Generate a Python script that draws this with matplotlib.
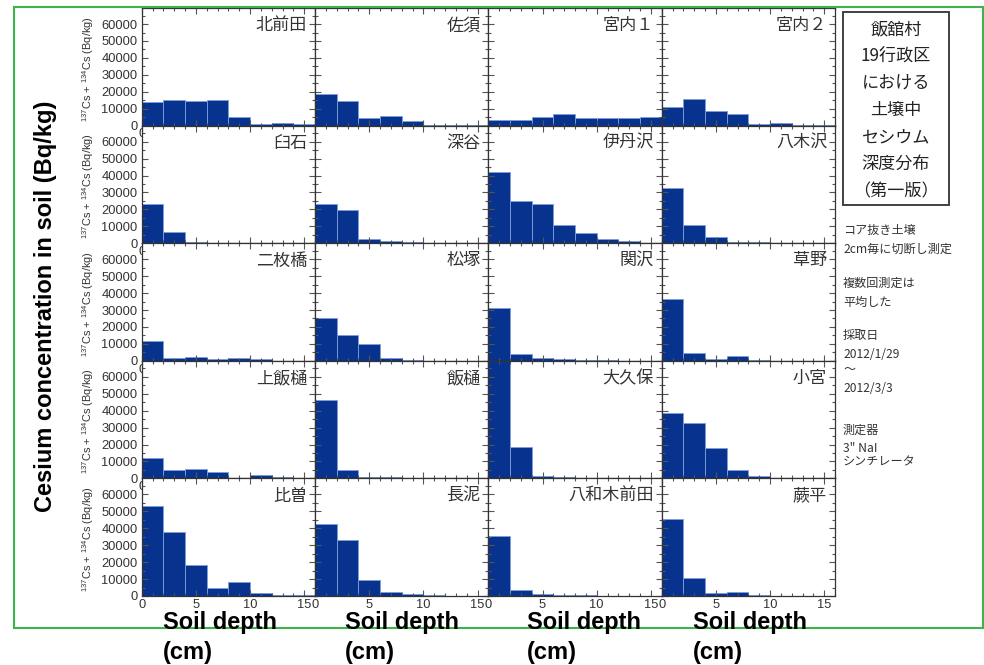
import matplotlib
matplotlib.use("Agg")
import matplotlib.pyplot as plt
from matplotlib.patches import Rectangle
from matplotlib.ticker import MultipleLocator

plt.rcParams['font.family'] = ['Liberation Sans', 'Noto Sans CJK JP']
plt.rcParams['mathtext.fontset'] = 'custom'
plt.rcParams['mathtext.rm'] = 'Liberation Sans'

#------------------------------------------------------------------------------
# data: Cs-137 + Cs-134 per 2 cm soil layer (Bq/kg)

depth_edges = [0, 2, 4, 6, 8, 10, 12, 14, 16]

sites = ["北前田", "佐須", "宮内１", "宮内２",
         "臼石", "深谷", "伊丹沢", "八木沢",
         "二枚橋", "松塚", "関沢", "草野",
         "上飯樋", "飯樋", "大久保", "小宮",
         "比曽", "長泥", "八和木前田", "蕨平"]

kitamaeda  = [14000, 15300, 14800, 15300, 5200, 1000, 1800, 1000]
sasu       = [18800, 14500, 4500, 5500, 2800, 400, 200, 100]
miyauchi1  = [3300, 3500, 5200, 6900, 4300, 4600, 4300, 5000]
miyauchi2  = [11000, 15700, 8400, 6900, 1200, 1600, 500, 200]
usuishi    = [23000, 6600, 900, 200, 100, 0, 0, 0]
fukaya     = [23400, 19700, 2300, 1200, 500, 200, 0, 0]
itamizawa  = [42300, 24800, 23000, 10900, 5800, 2300, 1200, 100]
yagisawa   = [32500, 10500, 3500, 900, 600, 0, 0, 0]
nimaibashi = [11500, 1800, 2200, 1000, 1600, 800, 0, 0]
matsuzuka  = [25500, 15300, 9800, 1600, 200, 100, 0, 0]
sekizawa   = [31000, 4000, 1400, 1000, 500, 300, 100, 0]
kusano     = [36400, 4900, 1200, 3000, 700, 0, 0, 0]
kamiiitoi  = [11900, 5200, 5600, 4000, 0, 2300, 600, 0]
iitoi      = [46200, 4800, 1000, 600, 500, 300, 100, 0]
ookubo     = [72000, 18300, 1200, 800, 300, 100, 0, 0]
komiya     = [38400, 32500, 17900, 4900, 1400, 500, 200, 200]
hiso       = [53400, 37700, 18400, 5000, 8300, 1900, 800, 700]
nagadoro   = [42400, 33300, 9300, 2300, 1200, 300, 100, 0]
yawagi     = [35200, 3300, 1200, 800, 700, 100, 0, 0]
warabidaira = [45500, 10600, 1600, 2600, 600, 0, 0, 0]

values = [kitamaeda, sasu, miyauchi1, miyauchi2,
          usuishi, fukaya, itamizawa, yagisawa,
          nimaibashi, matsuzuka, sekizawa, kusano,
          kamiiitoi, iitoi, ookubo, komiya,
          hiso, nagadoro, yawagi, warabidaira]

title_lines = ["飯舘村", "19行政区", "における", "土壌中", "セシウム", "深度分布", "（第一版）"]
note_lines = [("コア抜き土壌", 230), ("2cm毎に切断し測定", 249),
              ("複数回測定は", 283), ("平均した", 302),
              ("採取日", 336), ("2012/1/29", 355), ("～", 369), ("2012/3/3", 388),
              ("測定器", 430), ("3\" NaI", 449), ("シンチレータ", 462)]

#------------------------------------------------------------------------------

W, H = 984, 665
fig = plt.figure(figsize=(W / 100, H / 100), dpi=100)

def fx(px): return px / W
def fy(py): return 1 - py / H

bar_color = "#07338f"
x0, x1 = 141.7, 835.0
y0, y1 = 8.0, 596.0
pw = (x1 - x0) / 4
ph = (y1 - y0) / 5

for i, (name, vals) in enumerate(zip(sites, values)):
  row, col = divmod(i, 4)
  left = x0 + col * pw
  top = y0 + row * ph
  ax = fig.add_axes([fx(left), fy(top + ph), pw / W, ph / H])
  ax.bar(depth_edges[:-1], vals, width=2, align='edge',
         color=bar_color, edgecolor="#7d9ddc", linewidth=0.6)
  ax.set_xlim(0, 16)
  ax.set_ylim(0, 69500)
  ax.xaxis.set_major_locator(MultipleLocator(5))
  ax.xaxis.set_minor_locator(MultipleLocator(1))
  ax.yaxis.set_major_locator(MultipleLocator(10000))
  ax.yaxis.set_minor_locator(MultipleLocator(5000))
  ax.tick_params(which='both', direction='in', top=True, right=True,
                 colors="#555555", labelcolor="#333333", labelsize=9.3, width=0.8)
  ax.tick_params(which='major', length=4)
  ax.tick_params(which='minor', length=2.5)
  ax.tick_params(axis='x', pad=2)
  ax.tick_params(axis='y', pad=3)
  if col != 0:
    ax.tick_params(labelleft=False)
  for s in ax.spines.values():
    s.set_color("#333333")
    s.set_linewidth(0.9)
  ax.text(0.955, 0.93, name, transform=ax.transAxes, ha='right', va='top',
          fontsize=12.3, color="#333333", family=['Noto Sans CJK JP'])

  if col == 0:
    fig.text(fx(88), fy(top + ph / 2 + 2), r"$^{137}$Cs + $^{134}$Cs (Bq/kg)",
             rotation=90, ha='center', va='center', fontsize=7.9, color="#333333")

#------------------------------------------------------------------------------
# outer labels

fig.text(fx(46), fy(306), "Cesium concentration in soil (Bq/kg)", rotation=90,
         ha='center', va='center', fontsize=17, fontweight='bold')

for xl in [163, 345, 527, 693]:
  fig.text(fx(xl), fy(623), "Soil depth", ha='left', va='center',
           fontsize=17, fontweight='bold')
  fig.text(fx(xl), fy(652), "(cm)", ha='left', va='center',
           fontsize=17, fontweight='bold')

# legend box on the right
fig.patches.append(Rectangle((fx(843), fy(205)), (949 - 843) / W, (205 - 12) / H,
                             transform=fig.transFigure, fill=False,
                             edgecolor="#333333", linewidth=1.3))
for k, line in enumerate(title_lines):
  fig.text(fx(896), fy(29 + k * 27), line, ha='center', va='center',
           fontsize=12.3, color="#222222", family=['Noto Sans CJK JP'])

for line, yy in note_lines:
  fig.text(fx(843), fy(yy), line, ha='left', va='center',
           fontsize=8.7, color="#333333", family=['Noto Sans CJK JP'])

# green frame
fig.patches.append(Rectangle((fx(14), fy(628)), (983 - 14) / W, (628 - 7) / H,
                             transform=fig.transFigure, fill=False,
                             edgecolor="#3cb44b", linewidth=1.5))

fig.savefig("out.png", dpi=100)
